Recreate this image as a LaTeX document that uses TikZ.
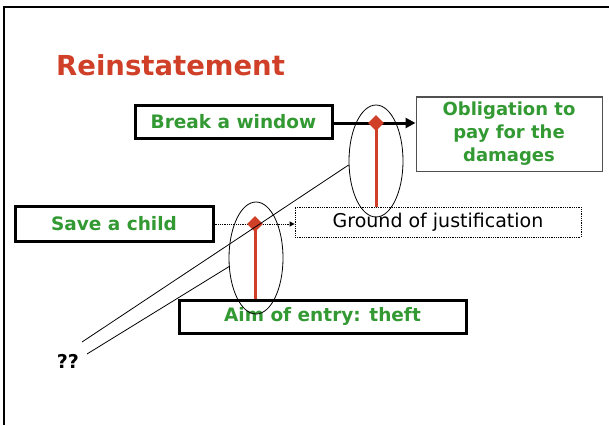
\documentclass[tikz,border=0pt]{standalone}
\usepackage{fontspec}
\setmainfont{DejaVu Sans}
\usetikzlibrary{arrows.meta,shapes.geometric}
\definecolor{tgreen}{RGB}{51,153,51}
\definecolor{tred}{RGB}{208,64,40}
\definecolor{tgrey}{RGB}{80,80,80}
\tikzset{
  thickbox/.style={draw=black,line width=3pt,fill=white,inner sep=0pt,
    font=\fontsize{18.5}{22}\selectfont\bfseries,text=tgreen},
  thinbox/.style={draw=tgrey,line width=1pt,fill=white,inner sep=0pt,align=center,
    font=\fontsize{18}{23}\selectfont\bfseries,text=tgreen},
  dotbox/.style={draw=black,densely dotted,line width=0.8pt,fill=white,inner sep=0pt,
    font=\fontsize{19}{22}\selectfont},
  reddiamond/.style={diamond,fill=tred,minimum size=16pt,inner sep=0pt},
  redline/.style={draw=tred,line width=3pt},
  ring/.style={ellipse,draw=black,line width=0.8pt,minimum width=54pt,minimum height=112pt,inner sep=0pt},
  thinline/.style={draw=black,line width=0.8pt}
}
\begin{document}
\begin{tikzpicture}[x=1pt,y=-1pt]
\useasboundingbox (0,0) rectangle (609,425);
\fill[white] (0,0) rectangle (609,425);
% frame
\draw[line width=2.5pt] (4,425) -- (4,7) -- (609,7);
% title
\node[anchor=base west,inner sep=0pt,text=tred,font=\fontsize{27.5}{32}\selectfont\bfseries] (title) at (56,76) {Reinstatement};
% boxes
\node[thickbox,minimum width=197pt,minimum height=33pt] (brk) at (233.5,121.5) {Break a window};
\node[thinbox,minimum width=186pt,minimum height=74pt] (obl) at (509,134) {Obligation to\\pay for the\\damages};
\node[thickbox,minimum width=198pt,minimum height=35pt] (save) at (114,223.5) {Save a child};
\node[dotbox,minimum width=286pt,minimum height=30pt] (grd) at (438,222) {Ground of justification};
\node[thickbox,minimum width=287pt,minimum height=33pt] (aim) at (322.5,316.5) {Aim of entry: theft};
% arrows
\draw[line width=3pt,-{Triangle[length=10pt,width=10pt]}] (brk.east |- 0,123) -- (obl.west |- 0,123);
\draw[densely dotted,line width=0.8pt,-{Triangle[length=5pt,width=5pt]}] (save.east |- 0,224) -- (grd.west |- 0,224);
% diamonds and red lines
\node[reddiamond] (dU) at (376,123) {};
\node[reddiamond] (dL) at (255,224) {};
\draw[redline] (dU.center) -- (dU.center |- grd.north);
\draw[redline] (dL.center) -- (dL.center |- aim.north);
% ellipses
\node[ring] (eU) at (376,161) {};
\node[ring] (eL) at (256,258) {};
% question marks
\node[font=\fontsize{19}{22}\selectfont\bfseries] (qq) at (68,361) {??};
\coordinate (q1) at (82,342);
\coordinate (q2) at (87,354);
\draw[thinline] (q1) -- (eU.west |- 0,165);
\draw[thinline] (q2) -- (230,266);
\end{tikzpicture}
\end{document}
